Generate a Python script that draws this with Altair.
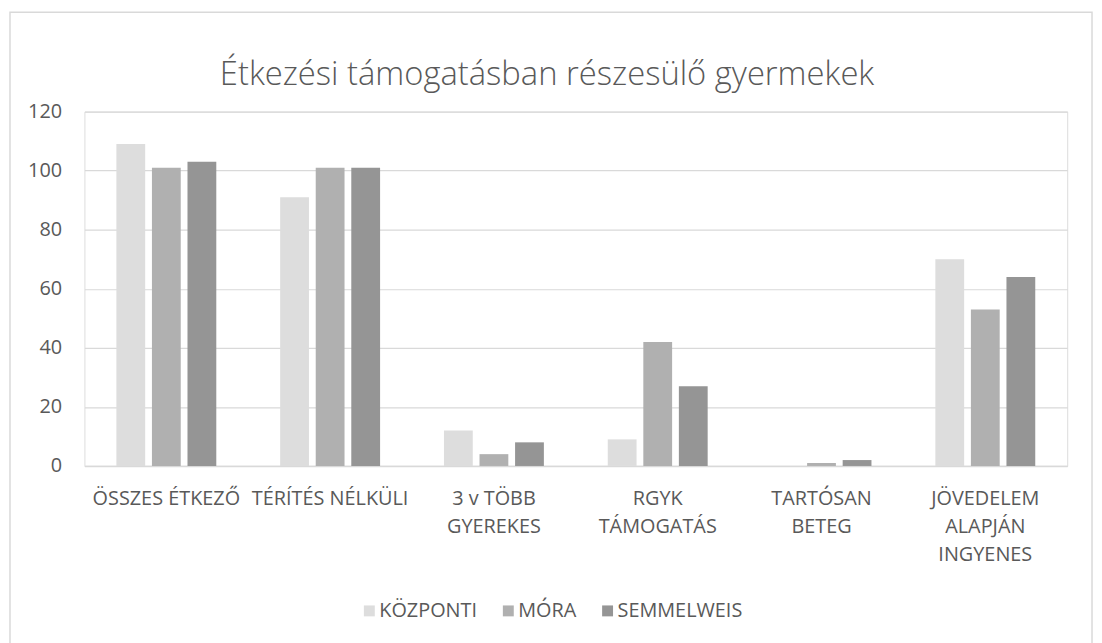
import altair as alt
import pandas as pd

categories = ["ÖSSZES ÉTKEZŐ", "TÉRÍTÉS NÉLKÜLI", "3 v TÖBB\nGYEREKES", "RGYK\nTÁMOGATÁS",
              "TARTÓSAN\nBETEG", "JÖVEDELEM\nALAPJÁN\nINGYENES"]
series = ["KÖZPONTI", "MÓRA", "SEMMELWEIS"]
kozponti = [109, 91, 12, 9, 0, 70]
mora = [101, 101, 4, 42, 1, 53]
semmelweis = [103, 101, 8, 27, 2, 64]
colors = ["#dddddd", "#b0b0b0", "#959595"]
y_ticks = [0, 20, 40, 60, 80, 100, 120]
title_text = "Étkezési támogatásban részesülő gyermekek"

rows = []
for name, vals in zip(series, [kozponti, mora, semmelweis]):
    for c, v in zip(categories, vals):
        rows.append({"cat": c, "series": name, "value": v})
df = pd.DataFrame(rows)

FONT = "Open Sans"
TXT = "#595959"

bars = alt.Chart(df).mark_bar().encode(
    x=alt.X("cat:N", sort=categories,
            scale=alt.Scale(paddingInner=0.39, paddingOuter=0.195),
            axis=alt.Axis(title=None, labelAngle=0, labelExpr="split(datum.label, '\\n')",
                          labelFontSize=20, labelColor=TXT, labelFont=FONT,
                          labelLineHeight=28, labelPadding=23, labelBaseline="top",
                          labelLimit=300,
                          ticks=False, domain=True, domainColor="#d9d9d9", domainWidth=1.5)),
    xOffset=alt.XOffset("series:N", sort=series, scale=alt.Scale(paddingInner=0.19)),
    y=alt.Y("value:Q", scale=alt.Scale(domain=[0, 120], nice=False),
            axis=alt.Axis(title=None, values=y_ticks, labelFontSize=20, labelColor=TXT,
                          labelFont=FONT, labelPadding=23, ticks=False, domain=False,
                          gridColor="#d9d9d9", gridWidth=1.2)),
    color=alt.Color("series:N", sort=series, scale=alt.Scale(domain=series, range=colors),
                    legend=alt.Legend(title=None, orient="none", direction="horizontal",
                                      legendX=277, legendY=493, symbolType="square",
                                      symbolSize=121, symbolStrokeWidth=0, labelFontSize=20,
                                      labelColor=TXT, labelFont=FONT, labelOffset=0,
                                      columnPadding=21)),
)

border = alt.Chart(pd.DataFrame({"a": [0]})).mark_rect(
    fill=None, stroke="#d9d9d9", strokeWidth=1.5
).encode(x=alt.value(-75), x2=alt.value(1015), y=alt.value(-100), y2=alt.value(600))

title = alt.Chart(pd.DataFrame({"t": [title_text]})).mark_text(
    font=FONT, fontSize=33, fontWeight=300, color=TXT, align="center", baseline="alphabetic"
).encode(text="t:N", x=alt.value(466), y=alt.value(-27))

chart = alt.layer(border, bars, title).properties(
    width=990, height=357,
    autosize=alt.AutoSizeParams(type="none"),
    padding={"left": 77, "top": 102, "right": 27, "bottom": 176},
).configure_view(stroke=None).configure(background="white")

chart.save("out.html", embed_options={"renderer": "svg", "actions": False})
